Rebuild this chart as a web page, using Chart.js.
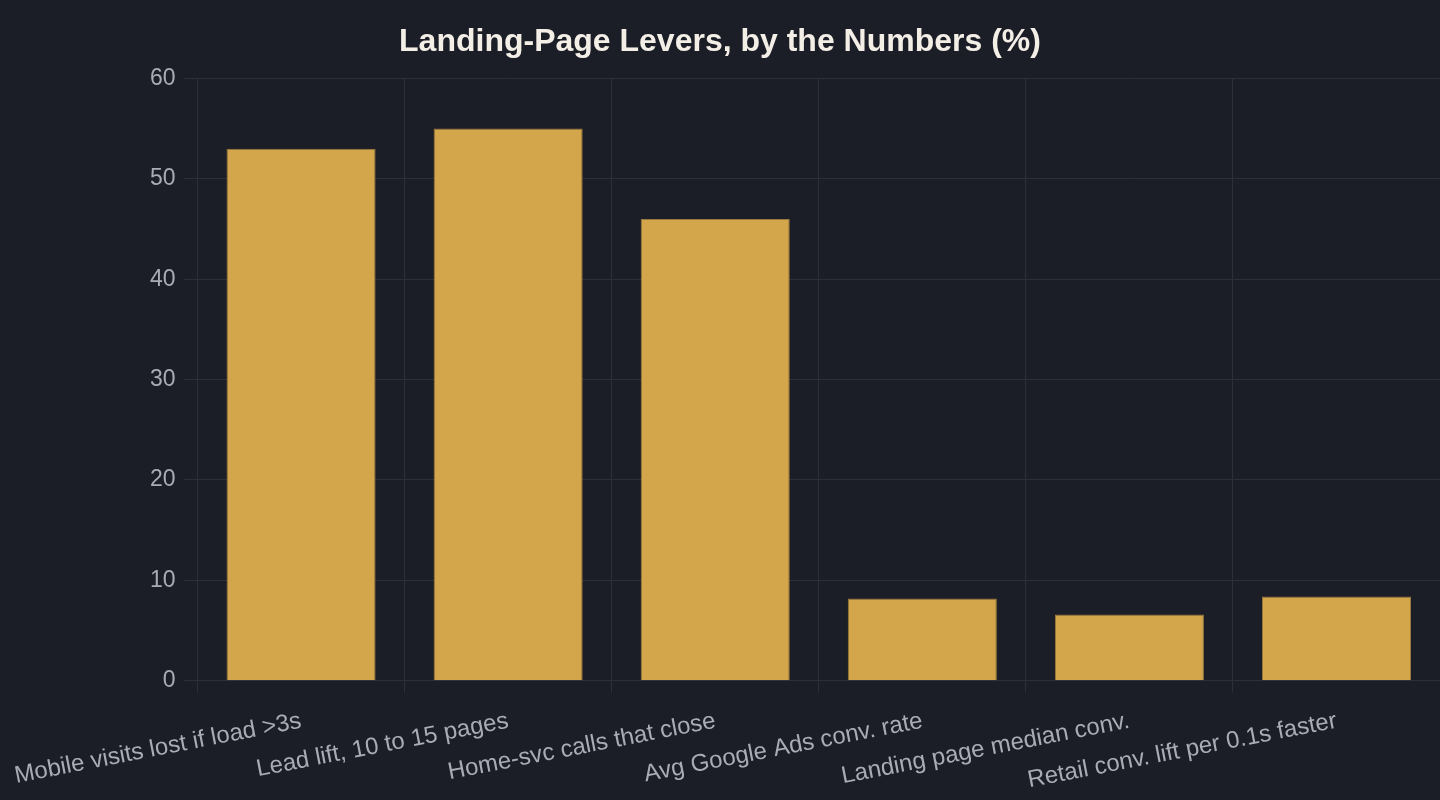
<!doctype html>
<html>
<head>
  <meta charset="utf-8" />
  <title>Landing-Page Levers</title>
  <script src="https://cdn.jsdelivr.net/npm/chart.js"></script>
  <style>
    html, body { margin: 0; padding: 0; background: #1b1d27; }
    #wrap { width: 1440px; height: 800px; }
  </style>
</head>
<body>
  <div id="wrap"><canvas id="chart"></canvas></div>

<script>
  // values
  var labels = [
    'Mobile visits lost if load >3s',
    'Lead lift, 10 to 15 pages',
    'Home-svc calls that close',
    'Avg Google Ads conv. rate',
    'Landing page median conv.',
    'Retail conv. lift per 0.1s faster'
  ];
  var values = [53, 55, 46, 8.2, 6.6, 8.4];

  var gridColor = '#2c2f3b';
  var tickColor = '#a9acb6';

  Chart.defaults.font.family = '"Liberation Sans", Arial, sans-serif';

  var ctx = document.getElementById('chart').getContext('2d');
  var chart = new Chart(ctx, {
    type: 'bar',
    data: {
      labels: labels,
      datasets: [{
        label: 'Percent',
        data: values,
        backgroundColor: '#d4a64c',
        borderColor: '#9a7a3c',
        borderWidth: 1
      }]
    },
    options: {
      responsive: true,
      maintainAspectRatio: false,
      animation: false,
      layout: { padding: { top: 0, right: 0, bottom: -9, left: 0 } },
      plugins: {
        legend: { display: false },
        title: {
          display: true,
          text: 'Landing-Page Levers, by the Numbers (%)',
          color: '#f3eee6',
          font: { size: 32, weight: 'bold' },
          padding: { top: 23, bottom: 17 }
        }
      },
      scales: {
        x: {
          grid: { color: gridColor, offset: true, tickLength: 12 },
          border: { color: gridColor },
          ticks: { color: tickColor, font: { size: 24 }, minRotation: 11, maxRotation: 11, padding: 14 },
          afterFit: function (scale) {
            // the rotated first label reserves a bit more room than the reference does
            scale.paddingLeft = Math.max(scale.paddingLeft - 4, 0);
          }
        },
        y: {
          min: 0,
          max: 60,
          grid: { color: gridColor, tickLength: 14 },
          border: { color: gridColor },
          ticks: { color: tickColor, font: { size: 23 }, stepSize: 10, padding: 8 }
        }
      }
    }
  });
</script>
</body>
</html>
